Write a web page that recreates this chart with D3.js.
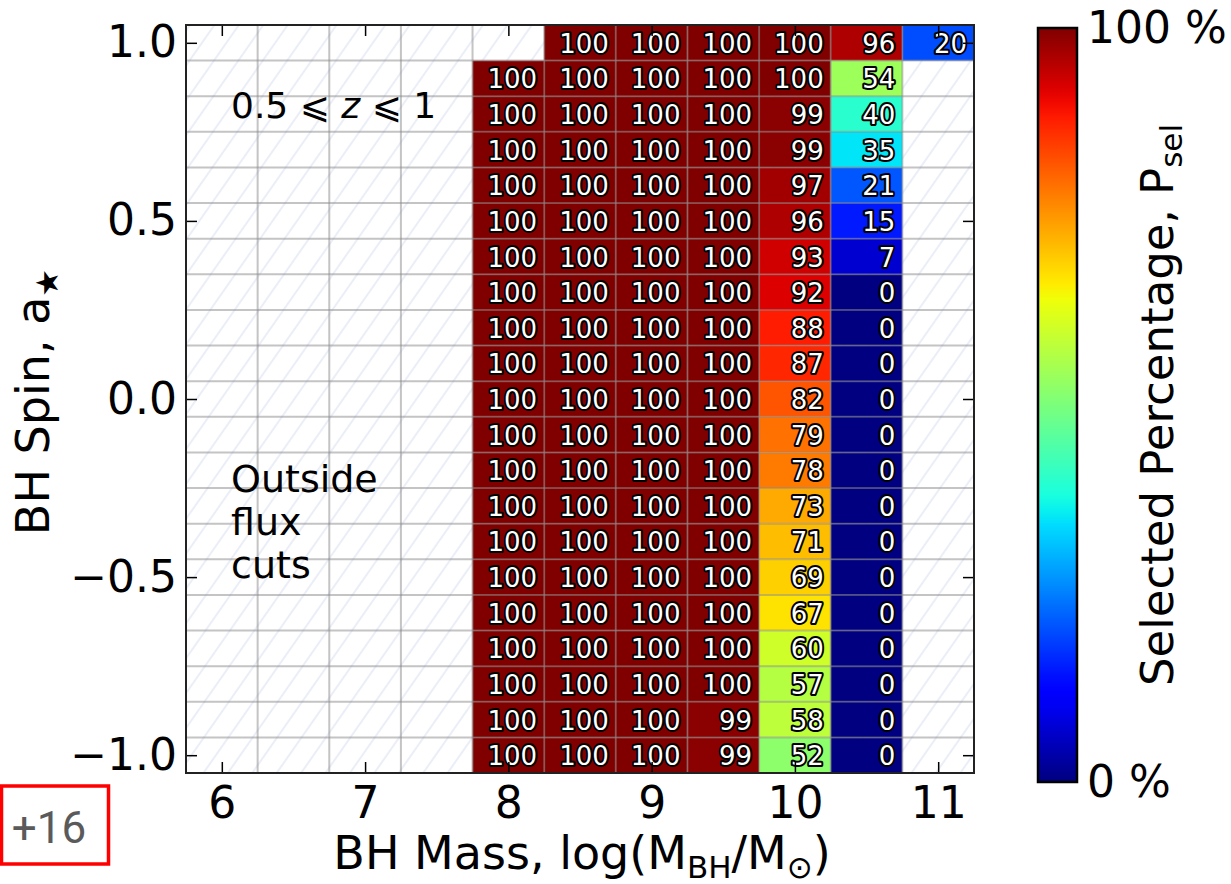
<!DOCTYPE html>
<html>
<head>
<meta charset="utf-8">
<script src="https://cdn.jsdelivr.net/npm/d3@7"></script>
<style>
  html, body { margin: 0; padding: 0; background: #fff; }
  svg { display: block; font-family: "DejaVu Sans", sans-serif; }
</style>
</head>
<body>
<svg id="chart" width="1231" height="884"></svg>
<script>
// Mass bins (log M_BH) and spin bins of the selection grid
const massBins = [6, 6.5, 7, 7.5, 8, 8.5, 9, 9.5, 10, 10.5, 11];
const spinBins = [1.0, 0.9, 0.8, 0.7, 0.6, 0.5, 0.4, 0.3, 0.2, 0.1, 0.0,
                  -0.1, -0.2, -0.3, -0.4, -0.5, -0.6, -0.7, -0.8, -0.9, -1.0];

// Columns that carry a selected percentage (the rest are outside flux cuts)
const selMass = [8, 8.5, 9, 9.5, 10, 10.5, 11];

// Selected percentage per spin row, one entry per selMass column (null = empty)
const pSel = [
  [null, 100, 100, 100, 100, 96, 20],
  [100, 100, 100, 100, 100, 54, null],
  [100, 100, 100, 100, 99, 40, null],
  [100, 100, 100, 100, 99, 35, null],
  [100, 100, 100, 100, 97, 21, null],
  [100, 100, 100, 100, 96, 15, null],
  [100, 100, 100, 100, 93, 7, null],
  [100, 100, 100, 100, 92, 0, null],
  [100, 100, 100, 100, 88, 0, null],
  [100, 100, 100, 100, 87, 0, null],
  [100, 100, 100, 100, 82, 0, null],
  [100, 100, 100, 100, 79, 0, null],
  [100, 100, 100, 100, 78, 0, null],
  [100, 100, 100, 100, 73, 0, null],
  [100, 100, 100, 100, 71, 0, null],
  [100, 100, 100, 100, 69, 0, null],
  [100, 100, 100, 100, 67, 0, null],
  [100, 100, 100, 100, 60, 0, null],
  [100, 100, 100, 100, 57, 0, null],
  [100, 100, 100, 99, 58, 0, null],
  [100, 100, 100, 99, 52, 0, null]
];

const xTicks = [6, 7, 8, 9, 10, 11];
const yTicks = [1.0, 0.5, 0.0, -0.5, -1.0];
const cbarTicks = [0, 100];

// --- layout ---
const svg = d3.select("#chart");
const plot = { left: 186, right: 974, top: 25, bottom: 773 };
const massStep = 0.5, spinStep = 0.1;

const x = d3.scaleLinear()
  .domain([massBins[0] - massStep / 2, massBins[massBins.length - 1] + massStep / 2])
  .range([plot.left, plot.right]);
const y = d3.scaleLinear()
  .domain([spinBins[spinBins.length - 1] - spinStep / 2, spinBins[0] + spinStep / 2])
  .range([plot.bottom, plot.top]);

// matplotlib "jet" colormap, piecewise linear per channel
const jetR = d3.scaleLinear().domain([0, 0.35, 0.66, 0.89, 1]).range([0, 0, 1, 1, 0.5]).clamp(true);
const jetG = d3.scaleLinear().domain([0, 0.125, 0.375, 0.64, 0.91, 1]).range([0, 0, 1, 1, 0, 0]).clamp(true);
const jetB = d3.scaleLinear().domain([0, 0.11, 0.34, 0.65, 1]).range([0.5, 1, 1, 0, 0]).clamp(true);
const pct = d3.scaleLinear().domain([0, 100]).range([0, 1]).clamp(true);
const jet = v => { const t = pct(v); return d3.rgb(jetR(t) * 255, jetG(t) * 255, jetB(t) * 255).formatHex(); };

// --- defs: hatch for the background, gradient for the colorbar ---
const defs = svg.append("defs");
const hatch = defs.append("pattern")
  .attr("id", "hatch").attr("patternUnits", "userSpaceOnUse")
  .attr("width", 20).attr("height", 20)
  .attr("patternTransform", "rotate(35)");
hatch.append("line").attr("x1", 10).attr("y1", -2).attr("x2", 10).attr("y2", 22)
  .attr("stroke", "#d6ddef").attr("stroke-width", 1);

defs.append("clipPath").attr("id", "plotClip").append("rect")
  .attr("x", plot.left).attr("y", plot.top)
  .attr("width", plot.right - plot.left).attr("height", plot.bottom - plot.top);

const grad = defs.append("linearGradient").attr("id", "jetGrad")
  .attr("x1", 0).attr("y1", 1).attr("x2", 0).attr("y2", 0);
d3.range(0, 101, 2).forEach(v => grad.append("stop").attr("offset", v / 100).attr("stop-color", jet(v)));

// --- plot background ---
const g = svg.append("g").attr("clip-path", "url(#plotClip)");
g.append("rect").attr("x", plot.left).attr("y", plot.top)
  .attr("width", plot.right - plot.left).attr("height", plot.bottom - plot.top)
  .attr("fill", "#fff");
g.append("rect").attr("x", plot.left).attr("y", plot.top)
  .attr("width", plot.right - plot.left).attr("height", plot.bottom - plot.top)
  .attr("fill", "url(#hatch)");

// --- cells ---
const cells = [];
spinBins.forEach((s, i) => selMass.forEach((m, j) => {
  const v = pSel[i][j];
  if (v !== null) cells.push({ m, s, v });
}));

g.selectAll("rect.cell").data(cells).join("rect")
  .attr("class", "cell")
  .attr("x", d => x(d.m - massStep / 2))
  .attr("y", d => y(d.s + spinStep / 2))
  .attr("width", d => x(d.m + massStep / 2) - x(d.m - massStep / 2))
  .attr("height", d => y(d.s - spinStep / 2) - y(d.s + spinStep / 2))
  .attr("fill", d => jet(d.v));

// --- grid along the cell boundaries ---
const xEdges = d3.range(1, massBins.length).map(i => massBins[i] - massStep / 2);
const yEdges = d3.range(1, spinBins.length).map(i => spinBins[i] + spinStep / 2);
g.selectAll("line.vg").data(xEdges).join("line")
  .attr("x1", d => x(d)).attr("x2", d => x(d))
  .attr("y1", plot.top).attr("y2", plot.bottom)
  .attr("stroke", "#8a8a8a").attr("stroke-opacity", 0.5).attr("stroke-width", 2);
g.selectAll("line.hg").data(yEdges).join("line")
  .attr("y1", d => y(d)).attr("y2", d => y(d))
  .attr("x1", plot.left).attr("x2", plot.right)
  .attr("stroke", "#8a8a8a").attr("stroke-opacity", 0.5).attr("stroke-width", 2);

// --- cell labels: white digits with a dark outline ---
g.selectAll("text.val").data(cells).join("text")
  .attr("x", d => x(d.m + massStep / 2) - 7)
  .attr("y", d => (y(d.s + spinStep / 2) + y(d.s - spinStep / 2)) / 2 + 10)
  .attr("text-anchor", "end")
  .attr("font-size", 26)
  .attr("fill", "#fff")
  .attr("stroke", "#000").attr("stroke-width", 4)
  .attr("stroke-linejoin", "round")
  .attr("paint-order", "stroke")
  .text(d => d3.format("d")(d.v));

// --- annotations inside the axes ---
const zt = svg.append("text").attr("x", 231).attr("y", 118)
  .attr("font-size", 36).attr("fill", "#000");
zt.append("tspan").text("0.5 \u2A7D ");
zt.append("tspan").attr("font-style", "italic").text("z");
zt.append("tspan").text(" \u2A7D 1");
const outside = svg.append("text").attr("x", 231).attr("y", 492)
  .attr("font-size", 38).attr("fill", "#000");
["Outside", "flux", "cuts"].forEach((t, i) =>
  outside.append("tspan").attr("x", 231).attr("dy", i === 0 ? 0 : 43).text(t));

// --- frame and axes (inward ticks on all four sides) ---
const tickLen = 11;
const axisFont = 44;
const titleFont = 46;
const fmt1 = d3.format(".1f");

svg.append("g").attr("transform", `translate(0,${plot.bottom})`)
  .call(d3.axisBottom(x).tickValues(xTicks).tickSizeInner(-tickLen).tickSizeOuter(0).tickPadding(14).tickFormat(d3.format("d")))
  .call(a => a.select(".domain").remove())
  .call(a => a.selectAll("text").attr("font-size", axisFont).attr("font-family", "DejaVu Sans").attr("fill", "#000"))
  .call(a => a.selectAll("line").attr("stroke", "#000").attr("stroke-width", 1.5));
svg.append("g").attr("transform", `translate(0,${plot.top})`)
  .call(d3.axisTop(x).tickValues(xTicks).tickSizeInner(-tickLen).tickSizeOuter(0).tickFormat(""))
  .call(a => a.select(".domain").remove())
  .call(a => a.selectAll("line").attr("stroke", "#000").attr("stroke-width", 1.5));
svg.append("g").attr("transform", `translate(${plot.left},0)`)
  .call(d3.axisLeft(y).tickValues(yTicks).tickSizeInner(-tickLen).tickSizeOuter(0).tickPadding(9)
    .tickFormat(d => (d < 0 ? "\u2212" : "") + fmt1(Math.abs(d))))
  .call(a => a.select(".domain").remove())
  .call(a => a.selectAll("text").attr("font-size", axisFont).attr("font-family", "DejaVu Sans").attr("fill", "#000"))
  .call(a => a.selectAll("line").attr("stroke", "#000").attr("stroke-width", 1.5));
svg.append("g").attr("transform", `translate(${plot.right},0)`)
  .call(d3.axisRight(y).tickValues(yTicks).tickSizeInner(-tickLen).tickSizeOuter(0).tickFormat(""))
  .call(a => a.select(".domain").remove())
  .call(a => a.selectAll("line").attr("stroke", "#000").attr("stroke-width", 1.5));

svg.append("rect").attr("x", plot.left).attr("y", plot.top)
  .attr("width", plot.right - plot.left).attr("height", plot.bottom - plot.top)
  .attr("fill", "none").attr("stroke", "#222").attr("stroke-width", 2);

// --- axis titles ---
const xl = svg.append("text").attr("x", 582).attr("y", 869)
  .attr("text-anchor", "middle").attr("font-size", titleFont).attr("fill", "#000");
xl.append("tspan").text("BH Mass, log(M");
xl.append("tspan").attr("font-size", 31).attr("dy", 9).text("BH");
xl.append("tspan").attr("dy", -9).text("/M");
xl.append("tspan").attr("font-size", 31).attr("dy", 9).text("\u2299");
xl.append("tspan").attr("dy", -9).text(")");

const yl = svg.append("text")
  .attr("transform", "translate(49,402) rotate(-90)")
  .attr("text-anchor", "middle").attr("font-size", titleFont).attr("fill", "#000");
yl.append("tspan").text("BH Spin, a");
yl.append("tspan").attr("font-size", 31).attr("dy", 9).text("\u2605");

// --- colorbar ---
const cb = { x: 1038, w: 39, top: 28, bottom: 782 };
const cbScale = d3.scaleLinear().domain([0, 100]).range([cb.bottom, cb.top]);
svg.append("rect").attr("x", cb.x).attr("y", cb.top)
  .attr("width", cb.w).attr("height", cb.bottom - cb.top)
  .attr("fill", "url(#jetGrad)").attr("stroke", "#000").attr("stroke-width", 2.5);
svg.selectAll("text.cbt").data(cbarTicks).join("text")
  .attr("x", cb.x + cb.w + 10)
  .attr("y", d => cbScale(d) + 15)
  .attr("font-size", axisFont).attr("fill", "#000")
  .text(d => d + " %");

const cl = svg.append("text")
  .attr("transform", "translate(1173,405) rotate(-90)")
  .attr("text-anchor", "middle").attr("font-size", 45).attr("fill", "#000");
cl.append("tspan").text("Selected Percentage, P");
cl.append("tspan").attr("font-size", 31).attr("dy", 9).text("sel");

// --- page counter badge ---
svg.append("rect").attr("x", 1.5).attr("y", 786).attr("width", 107).attr("height", 78)
  .attr("fill", "#fff").attr("stroke", "#f00").attr("stroke-width", 3.5);
svg.append("text").attr("x", 49).attr("y", 843).attr("text-anchor", "middle")
  .attr("font-family", "Roboto, sans-serif").attr("font-size", 44).attr("fill", "#5a5a5a")
  .text("+16");
</script>
</body>
</html>
